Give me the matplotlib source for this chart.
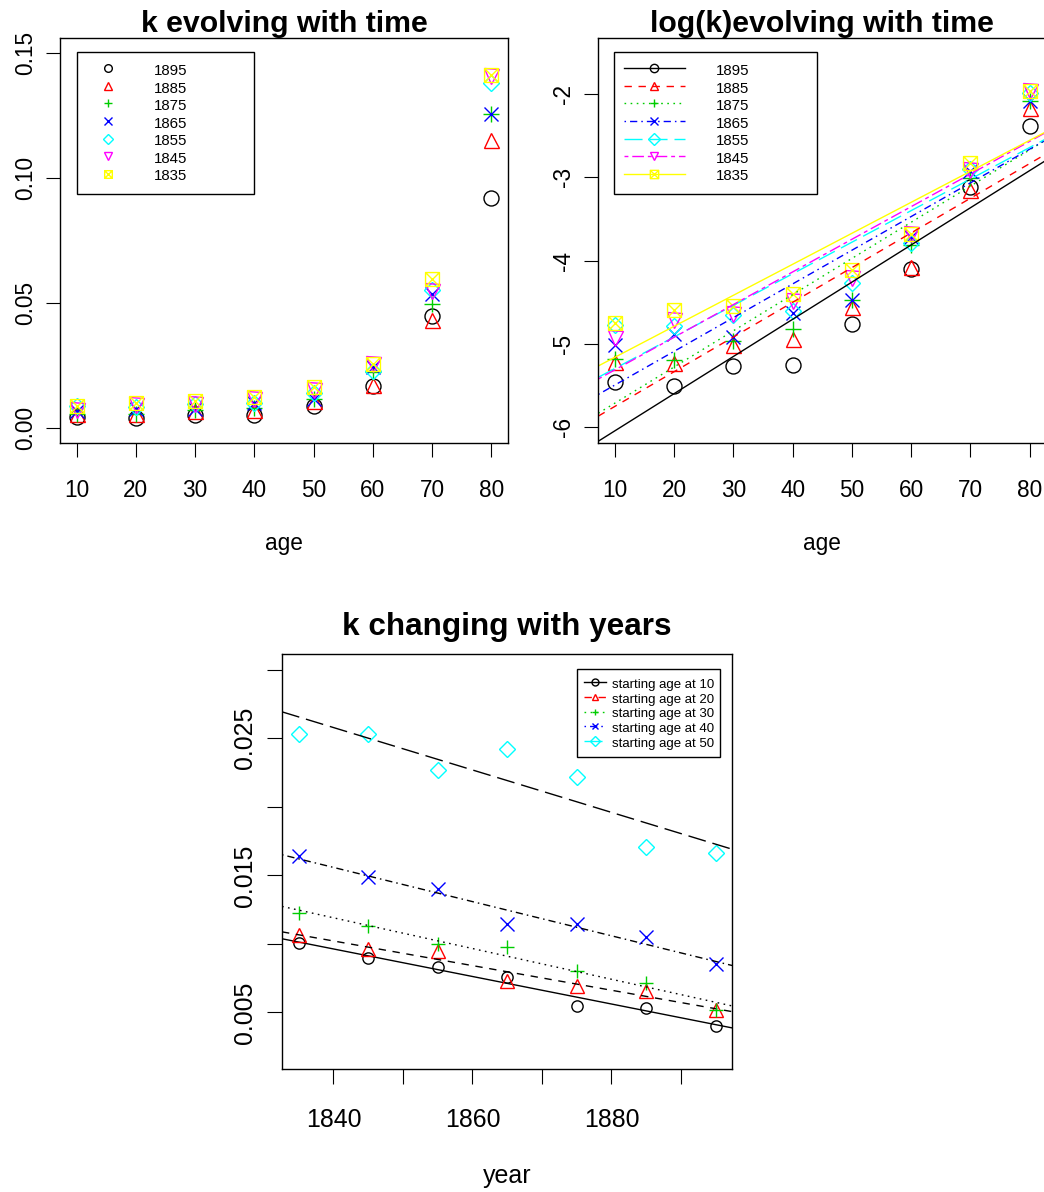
import matplotlib
matplotlib.use("Agg")
import matplotlib.pyplot as plt
import numpy as np
from matplotlib.lines import Line2D
from matplotlib.path import Path

plt.rcParams["font.family"] = ["Liberation Sans", "DejaVu Sans"]
plt.rcParams["axes.unicode_minus"] = False
plt.rcParams["lines.scale_dashes"] = False

# force of mortality k by age, one list per birth cohort
ages = [10, 20, 30, 40, 50, 60, 70, 80]
cohorts = [1895, 1885, 1875, 1865, 1855, 1845, 1835]
k_1895 = [0.00425, 0.00403, 0.00515, 0.00520, 0.00854, 0.01660, 0.0446, 0.0920]
k_1885 = [0.00541, 0.00536, 0.00660, 0.00714, 0.01053, 0.01704, 0.0430, 0.1150]
k_1875 = [0.00563, 0.00551, 0.00694, 0.00806, 0.01143, 0.02218, 0.0495, 0.1255]
k_1865 = [0.00667, 0.00762, 0.00731, 0.00980, 0.01143, 0.02424, 0.0535, 0.1255]
k_1855 = [0.00849, 0.00835, 0.00951, 0.01000, 0.01402, 0.02266, 0.0550, 0.1380]
k_1845 = [0.00723, 0.00896, 0.00964, 0.01131, 0.01490, 0.02534, 0.0545, 0.1405]
k_1835 = [0.00865, 0.01005, 0.01065, 0.01223, 0.01640, 0.02534, 0.0593, 0.1410]
start_ages = [10, 20, 30, 40, 50]

k = np.array([k_1895, k_1885, k_1875, k_1865, k_1855, k_1845, k_1835])

# R-like palette, symbols and line types
box_x = Path([(-1, -1), (1, -1), (1, 1), (-1, 1), (-1, -1), (-1, -1), (1, 1), (-1, 1), (1, -1)],
             [Path.MOVETO, Path.LINETO, Path.LINETO, Path.LINETO, Path.CLOSEPOLY,
              Path.MOVETO, Path.LINETO, Path.MOVETO, Path.LINETO])
colors = ["black", "red", "#00CD00", "blue", "cyan", "magenta", "yellow"]
markers = ["o", "^", "+", "x", "D", "v", box_x]
msizes = [10.8, 10.8, 11.5, 10.0, 8.1, 10.8, 10.0]
msizes_small = [8.1, 9.5, 10.5, 9.5, 8.5]
dashes = ["-", (0, (5.3, 4.8)), (0, (1.2, 3.2)), (0, (1.1, 2.9, 5.2, 2.9)),
          (0, (13, 5)), (0, (2.8, 2.8, 8.4, 2.8)), "-"]

fig = plt.figure(figsize=(10.44, 11.92), dpi=100)
ax1 = fig.add_axes([0.05747, 0.62861, 0.42912, 0.33977])
ax2 = fig.add_axes([0.57308, 0.62861, 0.42912, 0.33977])
ax3 = fig.add_axes([0.27011, 0.10319, 0.43132, 0.34790])


def style_axes(ax, fs, tick_len, xpad, ypad):
    for s in ax.spines.values():
        s.set_linewidth(1.0)
    ax.tick_params(direction="out", length=tick_len, width=0.8, labelsize=fs)
    ax.tick_params(axis="x", pad=xpad)
    ax.tick_params(axis="y", pad=ypad)


def legend_box(ax, handles, labels, bbox, fs, hl, htp, bp, hh):
    leg = ax.legend(handles, labels, loc="upper left", bbox_to_anchor=bbox, mode="expand",
                    borderaxespad=0, fontsize=fs, handlelength=hl, handletextpad=htp,
                    borderpad=bp, handleheight=hh, labelspacing=0.0, fancybox=False,
                    framealpha=1, edgecolor="black")
    leg.get_frame().set_linewidth(1.0)


# k against age
for i, year in enumerate(cohorts):
    ax1.plot(ages, k[i], ls="none", marker=markers[i], ms=msizes[i], mfc="none",
             mec=colors[i], mew=1.0)
ax1.set_xlim(7.2, 82.8)
ax1.set_ylim(-0.006, 0.156)
ax1.set_xticks(ages)
ax1.set_yticks([0, 0.05, 0.10, 0.15], ["0.00", "0.05", "0.10", "0.15"], rotation=90, va="center")
style_axes(ax1, 16.3, 10, 16.3, 6.5)
ax1.set_title("k evolving with time", fontsize=21.8, fontweight="bold", pad=2.9)
ax1.set_xlabel("age", fontsize=16.3, va="baseline")
ax1.xaxis.set_label_coords(0.5, -0.2649)
h1 = [Line2D([], [], ls="none", marker=markers[i], ms=5.5, mfc="none", mec=colors[i], mew=1.0)
      for i in range(len(cohorts))]
legend_box(ax1, h1, [str(c) for c in cohorts], (0.0373, 0.0, 0.3964, 0.964),
           10.8, 2.88, 1.63, 0.62, 1.42)

# log(k) against age with a straight fit per cohort
logk = np.log(k)
for i, year in enumerate(cohorts):
    ax2.plot(ages, logk[i], ls="none", marker=markers[i], ms=msizes[i], mfc="none",
             mec=colors[i], mew=1.0)
for i, year in enumerate(cohorts):
    slope, icpt = np.polyfit(ages, logk[i], 1)
    ax2.axline((0, icpt), slope=slope, color=colors[i], ls=dashes[i], lw=1.0)
ax2.set_xlim(7.2, 82.8)
ax2.set_ylim(-6.19, -1.32)
ax2.set_xticks(ages)
ax2.set_yticks([-6, -5, -4, -3, -2], ["-6", "-5", "-4", "-3", "-2"], rotation=90, va="center")
style_axes(ax2, 16.3, 10, 16.3, 6.5)
ax2.set_title("log(k)evolving with time", fontsize=21.8, fontweight="bold", pad=2.9)
ax2.set_xlabel("age", fontsize=16.3, va="baseline")
ax2.xaxis.set_label_coords(0.5, -0.2649)
h2 = [Line2D([], [], color=colors[i], ls=dashes[i], lw=1.0, marker=markers[i], ms=6,
             mfc="none", mec=colors[i], mew=1.0) for i in range(len(cohorts))]
legend_box(ax2, h2, [str(c) for c in cohorts], (0.0357, 0.0, 0.4518, 0.964),
           10.8, 4.1, 2.05, 0.62, 1.42)

# k against calendar year for each starting age
for j, s in enumerate(start_ages):
    col = ages.index(s + 10)
    ax3.plot(cohorts, k[:, col], ls="none", marker=markers[j], ms=msizes_small[j], mfc="none",
             mec=colors[j], mew=1.0)
    slope, icpt = np.polyfit(cohorts, k[:, col], 1)
    ax3.axline((1865, icpt + slope * 1865), slope=slope, color="black", ls=dashes[j], lw=1.0)
ax3.set_xlim(1832.6, 1897.4)
ax3.set_ylim(0.00088, 0.03112)
ax3.set_xticks([1840, 1850, 1860, 1870, 1880, 1890], ["1840", "", "1860", "", "1880", ""])
ax3.set_yticks([0.005, 0.010, 0.015, 0.020, 0.025, 0.030],
               ["0.005", "", "0.015", "", "0.025", ""], rotation=90, va="center")
style_axes(ax3, 17.9, 10.8, 17.3, 7.0)
ax3.set_title("k changing with years", fontsize=22.7, fontweight="bold", pad=14.2)
ax3.set_xlabel("year", fontsize=18.0, va="baseline")
ax3.xaxis.set_label_coords(0.5, -0.2756)
h3 = [Line2D([], [], color=colors[j], ls=dashes[j], lw=1.0, marker=markers[j], ms=5,
             mfc="none", mec=colors[j], mew=1.0) for j in range(len(start_ages))]
legend_box(ax3, h3, [f"starting age at {s}" for s in start_ages], (0.6544, 0.0, 0.3183, 0.9638),
           9.5, 1.64, 0.49, 0.56, 1.29)

fig.savefig("out.png", dpi=100)
